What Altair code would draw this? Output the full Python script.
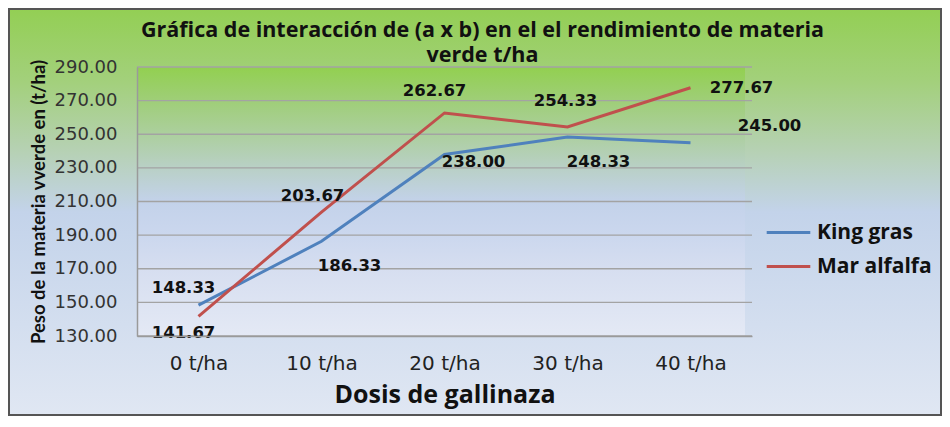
import altair as alt
import pandas as pd

categories = ["0 t/ha", "10 t/ha", "20 t/ha", "30 t/ha", "40 t/ha"]
king_gras = [148.33, 186.33, 238.00, 248.33, 245.00]
mar_alfalfa = [141.67, 203.67, 262.67, 254.33, 277.67]
series_names = ["King gras", "Mar alfalfa"]
y_ticks = [130, 150, 170, 190, 210, 230, 250, 270, 290]

# label offsets (styling only)
king_dx = [-15, 28, 29, 31, 79]
king_dy = [-17, 25, 8, 25, -17]
mar_dx = [-15, -9, -10, -2, 51]
mar_dy = [17, -16, -22, -26, 0]

rows = []
for i, c in enumerate(categories):
    rows.append({"dosis": c, "serie": series_names[0], "valor": king_gras[i], "idx": i})
    rows.append({"dosis": c, "serie": series_names[1], "valor": mar_alfalfa[i], "idx": i})
df = pd.DataFrame(rows)
grid_df = pd.DataFrame({"valor": y_ticks})

W, H = 615, 269
PL, PT, PR, PB = 129, 59, 190, 80

x_scale = alt.Scale(domain=categories, paddingInner=0, paddingOuter=0.5)
y_scale = alt.Scale(domain=[130, 290], nice=False, zero=False)

x_title = "Dosis de gallinaza"
y_title = "Peso de la materia vverde  en  (t/ha)"
x_axis = alt.Axis(labelAngle=0, grid=False, zindex=1,
                  labelFont="DejaVu Sans", labelFontSize=20, labelColor="#222222",
                  labelPadding=17, ticks=False, domainColor="#9a9a9a", domainWidth=1.5,
                  titleFont="Open Sans", titleFontSize=25, titleFontWeight="bold",
                  titleColor="#111111", titlePadding=9)
y_axis = alt.Axis(values=y_ticks, format=".2f", grid=False, labelOverlap=False, zindex=1,
                  labelFont="DejaVu Sans", labelFontSize=18, labelColor="#333333",
                  labelPadding=20, ticks=False, domainColor="#9a9a9a", domainWidth=1.5,
                  titleFont="Lato", titleFontSize=18.5, titleFontWeight="bold",
                  titleColor="#111111", titlePadding=6)

outer_grad = alt.Gradient(gradient="linear", x1=0, x2=0, y1=0, y2=1, stops=[
    alt.GradientStop(color="#93cf54", offset=0),
    alt.GradientStop(color="#a3d07c", offset=0.18),
    alt.GradientStop(color="#b6d1b4", offset=0.35),
    alt.GradientStop(color="#c3d3ea", offset=0.5),
    alt.GradientStop(color="#e0e7f3", offset=1)])
plot_grad = alt.Gradient(gradient="linear", x1=0, x2=0, y1=0, y2=1, stops=[
    alt.GradientStop(color="#92d050", offset=0),
    alt.GradientStop(color="#9fce78", offset=0.125),
    alt.GradientStop(color="#accf9e", offset=0.25),
    alt.GradientStop(color="#b9d0c6", offset=0.375),
    alt.GradientStop(color="#c3d2ea", offset=0.5),
    alt.GradientStop(color="#cbd7ee", offset=0.625),
    alt.GradientStop(color="#d6def0", offset=0.75),
    alt.GradientStop(color="#e4e9f5", offset=1)])

bg_df = pd.DataFrame({"a": [0]})
outer_bg = alt.Chart(bg_df).mark_rect(fill=outer_grad, stroke="#555555", strokeWidth=2).encode(
    x=alt.value(-PL + 1), x2=alt.value(W + PR - 1),
    y=alt.value(-PT + 1), y2=alt.value(H + PB - 1))
plot_bg = alt.Chart(bg_df).mark_rect(fill=plot_grad).encode(
    x=alt.value(0), x2=alt.value(W - 7), y=alt.value(0), y2=alt.value(H))
grid = alt.Chart(grid_df).mark_rule(color="#a3a3a3", strokeWidth=1.3).encode(
    y=alt.Y("valor:Q", scale=y_scale, title=y_title, axis=y_axis),
    x=alt.value(0), x2=alt.value(W))

base = alt.Chart(df)
lines = base.mark_line(strokeWidth=3).encode(
    x=alt.X("dosis:N", scale=x_scale, sort=categories, title=x_title, axis=x_axis),
    y=alt.Y("valor:Q", scale=y_scale, title=y_title, axis=y_axis),
    color=alt.Color("serie:N", scale=alt.Scale(domain=series_names, range=["#4f81bd", "#c0504d"]),
                    legend=alt.Legend(title=None, orient="none", legendX=628, legendY=142,
                                      symbolType="stroke", symbolSize=1900, symbolStrokeWidth=3,
                                      labelFont="Open Sans", labelFontSize=21,
                                      labelFontWeight="bold", labelColor="#111111",
                                      rowPadding=-9, labelOffset=5, zindex=1)),
    order="idx:Q")

labels = []
for s, dxs, dys in [(series_names[0], king_dx, king_dy), (series_names[1], mar_dx, mar_dy)]:
    for i in range(len(categories)):
        labels.append(
            base.transform_filter((alt.datum.serie == s) & (alt.datum.idx == i))
            .mark_text(font="DejaVu Sans", fontSize=16.5, fontWeight="bold", color="#111111",
                       dx=dxs[i], dy=dys[i])
            .encode(x=alt.X("dosis:N", scale=x_scale, sort=categories, title=x_title, axis=x_axis),
                    y=alt.Y("valor:Q", scale=y_scale, title=y_title, axis=y_axis),
                    text=alt.Text("valor:Q", format=".2f")))

chart = alt.layer(outer_bg, plot_bg, grid, lines, *labels).properties(
    width=W, height=H,
    padding={"left": PL, "top": PT, "right": PR, "bottom": PB},
    autosize=alt.AutoSizeParams(type="none"),
    background="#dfe6f2",
    title=alt.TitleParams(
        text=["Gráfica de interacción de (a x b) en el  el rendimiento de materia", "verde  t/ha"],
        font="Open Sans", fontSize=21.5, fontWeight="bold", color="#111111",
        lineHeight=25, anchor="middle", dx=38, offset=-58, zindex=1)
).configure_view(stroke=None)

chart.save("out.html", embed_options={"renderer": "svg", "actions": False})
